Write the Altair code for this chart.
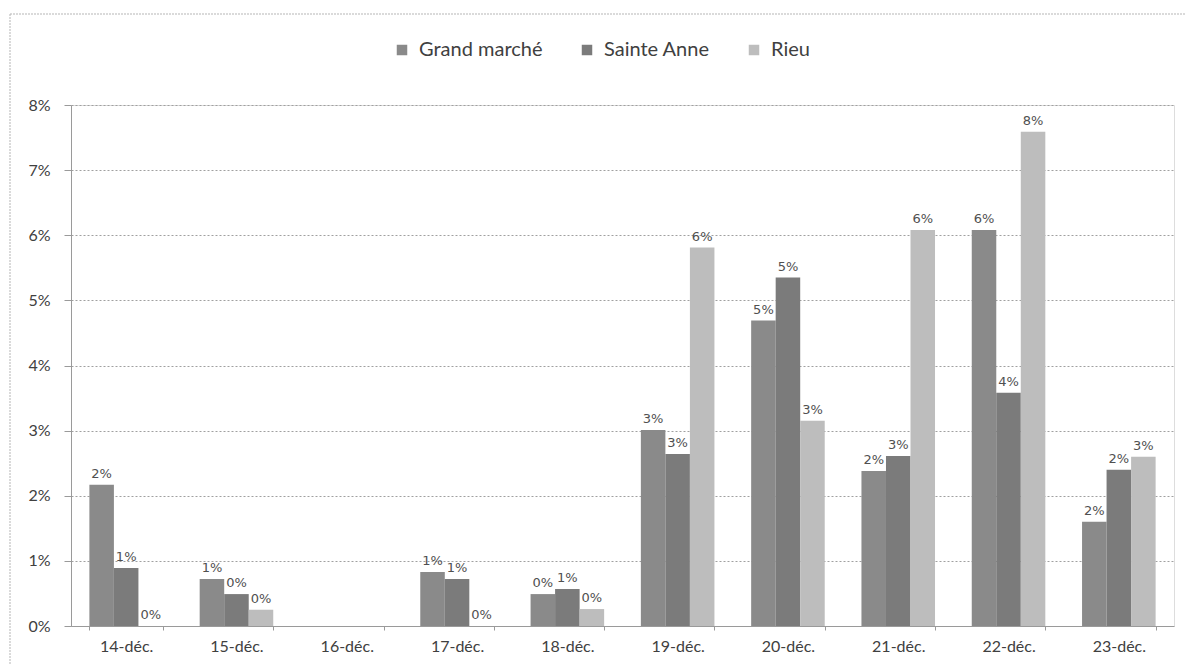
import altair as alt
import pandas as pd

dates = ["14-déc.", "15-déc.", "16-déc.", "17-déc.", "18-déc.",
         "19-déc.", "20-déc.", "21-déc.", "22-déc.", "23-déc."]
series = ["Grand marché", "Sainte Anne", "Rieu"]
grand_marche = [2.17, 0.72, None, 0.83, 0.49, 3.01, 4.69, 2.38, 6.08, 1.60]
sainte_anne = [0.89, 0.49, None, 0.72, 0.57, 2.64, 5.35, 2.61, 3.58, 2.40]
rieu = [0.0, 0.25, None, 0.0, 0.26, 5.81, 3.15, 6.08, 7.59, 2.60]
colors = ["#8a8a8a", "#7b7b7b", "#bdbdbd"]
y_ticks = [0, 0.01, 0.02, 0.03, 0.04, 0.05, 0.06, 0.07, 0.08]

rows = []
for name, vals in zip(series, [grand_marche, sainte_anne, rieu]):
    for d, v in zip(dates, vals):
        rows.append({"date": d, "serie": name,
                     "value": None if v is None else v / 100.0})
df = pd.DataFrame(rows)

x_enc = alt.X("date:N", sort=dates, title=None,
              scale=alt.Scale(paddingInner=0.333, paddingOuter=0.1667),
              axis=alt.Axis(labelAngle=0, tickBand="extent", tickSize=4,
                            labelPadding=8, labelFont="Lato", labelFontSize=16,
                            labelColor="#404040", domainColor="#9a9a9a",
                            tickColor="#9a9a9a", grid=False))
y_enc = alt.Y("value:Q", title=None,
              scale=alt.Scale(domain=[0, 0.08], nice=False),
              axis=alt.Axis(format=".0%", values=y_ticks, tickSize=7,
                            labelPadding=14, labelFont="Lato", labelFontSize=16,
                            labelColor="#404040", domainColor="#9a9a9a",
                            tickColor="#9a9a9a", gridColor="#a0a0a0",
                            gridDash=[2, 2], gridWidth=1))
color_enc = alt.Color("serie:N", sort=series,
                      scale=alt.Scale(domain=series, range=colors),
                      legend=alt.Legend(title=None, orient="none",
                                        direction="horizontal",
                                        legendX=321, legendY=-65,
                                        symbolType="square", symbolSize=110,
                                        symbolStrokeWidth=0,
                                        labelFont="Lato", labelFontSize=20,
                                        labelColor="#404040", labelOffset=7,
                                        columnPadding=34))
offset_enc = alt.XOffset("serie:N", sort=series,
                         scale=alt.Scale(domain=series, paddingInner=0, paddingOuter=0))

base = alt.Chart(df)
bars = base.mark_bar().encode(x=x_enc, y=y_enc, color=color_enc, xOffset=offset_enc)
labels = base.transform_filter("datum.value != null").mark_text(
    dy=-11, font="DejaVu Sans", fontSize=13, color="#505050"
).encode(x=alt.X("date:N", sort=dates), xOffset=offset_enc,
         y="value:Q", text=alt.Text("value:Q", format=".0%"))

border_top = alt.Chart(pd.DataFrame({"k": [0]})).mark_rule(
    color="#b5b5b5", strokeWidth=1, strokeDash=[2, 1]
).encode(x=alt.value(-61), x2=alt.value(1115), y=alt.value(-91))
border_left = alt.Chart(pd.DataFrame({"k": [0]})).mark_rule(
    color="#b5b5b5", strokeWidth=1, strokeDash=[2, 1]
).encode(x=alt.value(-61), y=alt.value(-91), y2=alt.value(560))

chart = alt.layer(bars, labels, border_top, border_left).properties(
    width=1103, height=521,
    padding={"left": 1, "top": 5, "right": 0, "bottom": 0}
).configure_view(stroke=None).configure(background="white")

chart.save("out.html", embed_options={"renderer": "svg", "actions": False})
